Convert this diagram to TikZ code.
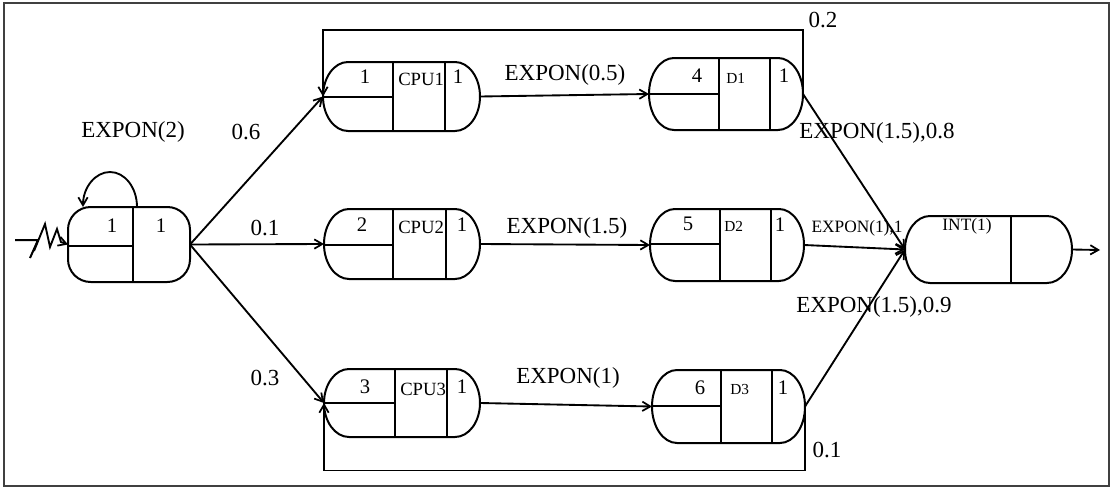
\documentclass[tikz,border=0pt]{standalone}
\usepackage{fontspec}
\setmainfont{Liberation Serif}
\usetikzlibrary{arrows.meta,fit,calc}
\tikzset{
  qline/.style={line width=1.5pt, line join=round},
  conn/.style={line width=1.4pt, -{Straight Barb[length=6pt,width=7pt,line width=1.3pt]}},
  big/.style={font=\fontsize{17.25}{20}\selectfont, inner sep=0pt},
  num/.style={font=\fontsize{15.5}{18}\selectfont, inner sep=0pt},
  small/.style={font=\fontsize{13}{15}\selectfont, inner sep=0pt},
  cpulabel/.style={font=\fontsize{14}{16}\selectfont, inner sep=0pt, anchor=west},
  tiny/.style={font=\fontsize{11.5}{14}\selectfont, inner sep=0pt, anchor=west},
  qfit/.style={inner sep=0pt, outer sep=0pt},
}
% name, left, top, right, bottom, end x-radius
\newcommand\qbox[6]{%
  \node[qfit, fit={(#2,#3) (#4,#5)}] (#1) {};
  \pgfmathsetmacro\qry{(#5-#3)/2}
  \draw[qline] ({#2+#6},#3) -- ({#4-#6},#3)
    arc[start angle=-90,end angle=90,x radius=#6,y radius=\qry]
    -- ({#2+#6},#5)
    arc[start angle=90,end angle=270,x radius=#6,y radius=\qry] -- cycle;
}
\begin{document}
\begin{tikzpicture}[x=0.75pt,y=-0.75pt]
\useasboundingbox (0,0) rectangle (1114,489);
\draw[black!75, line width=0.8pt] (4,3) rectangle (1109,486);

% source station
\node[qfit, fit={(68,207) (190,282)}] (src) {};
\draw[qline, rounded corners=17pt] (src.north west) rectangle (src.south east);
\draw[qline] (133,207) -- (133,282);
\draw[qline] (68,246) -- (133,246);
\node[num] (s1) at (112,226) {1};
\node[num] (s2) at (161,226) {1};

% CPU1
\qbox{cpu1}{323}{62}{480}{131}{25}
\draw[qline] (393,62) -- (393,131);
\draw[qline] (445,62) -- (445,131);
\draw[qline] (323,97) -- (393,97);
\node[num] (c1a) at (365,77) {1};
\node[cpulabel] (c1b) at (398,79) {CPU1};
\node[num] (c1c) at (458,77) {1};

% D1
\qbox{d1}{649}{58}{803}{130}{25}
\draw[qline] (719,58) -- (719,130);
\draw[qline] (770,58) -- (770,130);
\draw[qline] (649,94) -- (719,94);
\node[num] (d1a) at (697,76) {4};
\node[tiny] (d1b) at (726,78) {D1};
\node[num] (d1c) at (784,76) {1};

% CPU2
\qbox{cpu2}{324}{209}{480}{279}{25}
\draw[qline] (393,209) -- (393,279);
\draw[qline] (446,209) -- (446,279);
\draw[qline] (324,245) -- (393,245);
\node[num] (c2a) at (362,225) {2};
\node[cpulabel] (c2b) at (398,227) {CPU2};
\node[num] (c2c) at (462,225) {1};

% D2
\qbox{d2}{650}{209}{804}{281}{25}
\draw[qline] (720,209) -- (720,281);
\draw[qline] (771,209) -- (771,281);
\draw[qline] (650,244) -- (720,244);
\node[num] (d2a) at (688,224) {5};
\node[tiny] (d2b) at (724,226) {D2};
\node[num] (d2c) at (780,225) {1};

% CPU3
\qbox{cpu3}{324}{369}{480}{437}{25}
\draw[qline] (395,369) -- (395,437);
\draw[qline] (447,369) -- (447,437);
\draw[qline] (324,403) -- (395,403);
\node[num] (c3a) at (365,387) {3};
\node[cpulabel] (c3b) at (400,389) {CPU3};
\node[num] (c3c) at (462,387) {1};

% D3
\qbox{d3}{652}{370}{805}{443}{25}
\draw[qline] (721,370) -- (721,443);
\draw[qline] (772,370) -- (772,443);
\draw[qline] (652,406) -- (721,406);
\node[num] (d3a) at (700,388) {6};
\node[tiny] (d3b) at (730,389) {D3};
\node[num] (d3c) at (783,388) {1};

% INT
\qbox{int}{905}{216}{1072}{283}{25}
\draw[qline] (1011,216) -- (1011,283);
\node[small] (i1) at (967,226) {INT(1)};

% input
\coordinate (in0) at (15,240);
\draw[qline] (in0) -- (38,240) -- (30,258);
\draw[conn] (34,251) -- (45,224) -- (50,247) -- (57,229) -- (61,242) -- (src.west);

% self loop
\draw[conn] ($(src.north)+(8,0)$) arc[start angle=0,end angle=-180,x radius=27,y radius=35];

% routing
\draw[conn] (src.east) -- (cpu1.west);
\draw[conn] (src.east) -- (cpu2.west);
\draw[conn] (src.east) -- (cpu3.west);
\draw[conn] (cpu1.east) -- (d1.west);
\draw[conn] (cpu2.east) -- (d2.west);
\draw[conn] (cpu3.east) -- (d3.west);
\draw[conn] (d1.east) -- (int.west);
\draw[conn] (d2.east) -- (int.west);
\draw[conn] (d3.east) -- (int.west);
\draw[conn] (d1.east) -- ++(0,-64) -| (cpu1.west);
\draw[conn] (d3.east) -- ++(0,64) -| (cpu3.west);
\coordinate (out) at (1100,250);
\draw[conn] (int.east) -- (out);

% labels
\node[big] (lb1) at (133,132) {EXPON(2)};
\node[big] (lb2) at (246,132) {0.6};
\node[big] (lb3) at (265,228) {0.1};
\node[big] (lb4) at (265,378) {0.3};
\node[big] (lb5) at (565,75) {EXPON(0.5)};
\node[big] (lb6) at (567,228) {EXPON(1.5)};
\node[big] (lb7) at (568,378) {EXPON(1)};
\node[big] (lb8) at (823,20) {0.2};
\node[big] (lb9) at (877,133) {EXPON(1.5),0.8};
\node[small] (lb10) at (857,228) {EXPON(1),1};
\node[big] (lb11) at (874,307) {EXPON(1.5),0.9};
\node[big] (lb12) at (827,450) {0.1};
\end{tikzpicture}
\end{document}
